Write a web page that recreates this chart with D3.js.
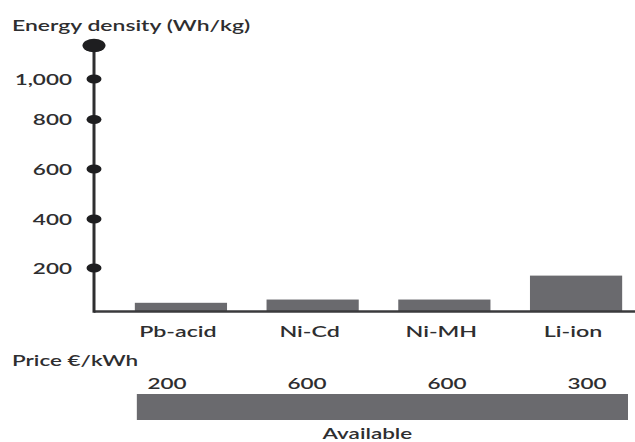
<!DOCTYPE html>
<html>
<head>
<meta charset="utf-8">
<script src="https://cdn.jsdelivr.net/npm/d3@7"></script>
<style>
  html, body { margin: 0; padding: 0; background: #fff; }
  svg { display: block; }
  text { font-family: Lato, "Open Sans", sans-serif; fill: #2e2e30; }
</style>
</head>
<body>
<svg id="chart" width="635" height="442"></svg>
<script>
// Battery technologies compared
const categories = ["Pb-acid", "Ni-Cd", "Ni-MH", "Li-ion"];
const energyDensity = [40, 55, 55, 165];          // Wh/kg
const prices = ["200", "600", "600", "300"];      // €/kWh
const yTickValues = [200, 400, 600, 800, 1000];
const axisTop = 1200;                              // end cap of the value axis
const titleText = "Energy density (Wh/kg)";
const priceTitle = "Price €/kWh";
const availabilityText = "Available";

const svg = d3.select("#chart");
const ink = "#2e2e30";
const barFill = "#6a6a6e";
const SX = 1.5;   // wide lettering

// value axis: graduated piecewise so the labelled dots sit where they are printed
const y = d3.scaleLinear()
  .domain([0, 200, 400, 600, 800, 1000, 1200])
  .range([311.5, 268, 219, 169, 119.5, 79, 45.5]);

const x = d3.scaleBand()
  .domain(categories)
  .range([94, 663])
  .paddingInner(0.3)
  .paddingOuter(0.31);

const priceX = d3.scalePoint()
  .domain(categories)
  .range([167, 587]);

function addText(g, str, px, py, anchor, size) {
  return g.append("text")
    .attr("transform", `translate(${px},${py}) scale(${SX},1)`)
    .attr("text-anchor", anchor)
    .style("font-size", size + "px")
    .style("font-weight", 600)
    .text(str);
}

// title
addText(svg, titleText, 12, 31, "start", 15.3);

// bars
svg.append("g").selectAll("rect")
  .data(categories)
  .join("rect")
  .attr("x", d => x(d))
  .attr("width", x.bandwidth())
  .attr("y", (d, i) => y(energyDensity[i]))
  .attr("height", (d, i) => y(0) - y(energyDensity[i]))
  .attr("fill", barFill);

// baseline
svg.append("line")
  .attr("x1", x.range()[0]).attr("x2", 635)
  .attr("y1", y(0)).attr("y2", y(0))
  .attr("stroke", "#3a3a3c").attr("stroke-width", 2.5);

// value axis line
const axisX = x.range()[0];
svg.append("line")
  .attr("x1", axisX).attr("x2", axisX)
  .attr("y1", y(0) + 1.2).attr("y2", y(axisTop))
  .attr("stroke", ink).attr("stroke-width", 3);

// tick dots and labels
const ticks = svg.append("g");
ticks.selectAll("ellipse")
  .data(yTickValues)
  .join("ellipse")
  .attr("cx", axisX).attr("cy", d => y(d))
  .attr("rx", 7.5).attr("ry", 4.6)
  .attr("fill", "#1e1e20");
const fmt = d3.format(",");
yTickValues.forEach(v => addText(ticks, fmt(v), 72, y(v) + 5.5, "end", 15));

// end cap of the axis
svg.append("ellipse")
  .attr("cx", axisX).attr("cy", y(axisTop))
  .attr("rx", 11.5).attr("ry", 6.8)
  .attr("fill", "#1e1e20");

// category labels
const catG = svg.append("g");
categories.forEach(c => addText(catG, c, x(c) + x.bandwidth() / 2 - 3, 337, "middle", 15.5));

// price row
addText(svg, priceTitle, 12, 366, "start", 15);
const priceG = svg.append("g");
categories.forEach((c, i) => addText(priceG, prices[i], priceX(c), 389, "middle", 15));

// availability bar
const availX0 = x(categories[0]) + 2;
const availX1 = 628;
svg.append("rect")
  .attr("x", availX0).attr("y", 394)
  .attr("width", availX1 - availX0).attr("height", 26)
  .attr("fill", barFill);
addText(svg, availabilityText, (availX0 + availX1) / 2 - 15, 438.5, "middle", 15);
</script>
</body>
</html>
